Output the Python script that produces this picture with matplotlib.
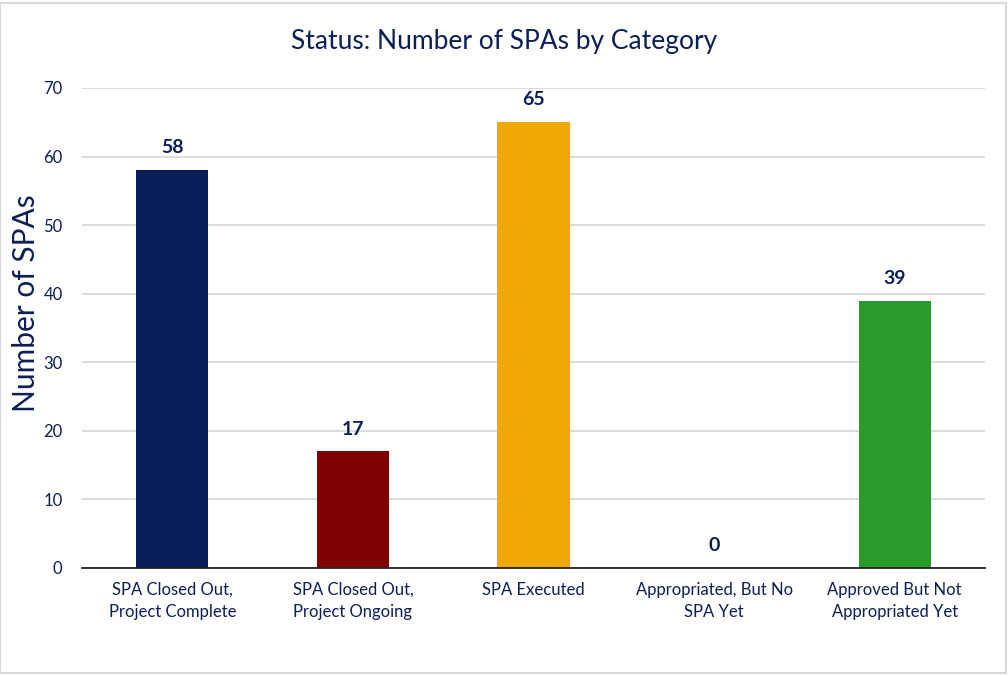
import matplotlib
matplotlib.use("Agg")
import matplotlib.pyplot as plt
from matplotlib.patches import Rectangle

categories = ["SPA Closed Out,\nProject Complete", "SPA Closed Out,\nProject Ongoing",
              "SPA Executed", "Appropriated, But No\nSPA Yet", "Approved But Not\nAppropriated Yet"]
values = [58, 17, 65, 0, 39]
colors = ["#081e59", "#7f0000", "#f0a804", "#1f4e9a", "#2a9a2a"]
yticks = [0, 10, 20, 30, 40, 50, 60, 70]

txt = "#0b1f55"
plt.rcParams['font.family'] = ['Lato', 'DejaVu Sans']

fig = plt.figure(figsize=(10.08, 6.76), dpi=100)
ax = fig.add_axes([82/1008, 1-568/676, 903/1008, 480/676])

x = list(range(len(categories)))
ax.bar(x, values, width=0.4, color=colors, zorder=3)
ax.set_xlim(-0.5, len(categories) - 0.5)
ax.set_ylim(0, 70)
ax.set_yticks(yticks)
ax.set_yticklabels([str(t) for t in yticks], color=txt, fontsize=12)
ax.set_xticks(x)
ax.set_xticklabels(categories, color=txt, fontsize=12, linespacing=1.45)
ax.tick_params(axis='both', length=0)
ax.tick_params(axis='y', pad=14)
ax.tick_params(axis='x', pad=10)
ax.grid(axis='y', color='#d9d9d9', linewidth=1.3, zorder=0)
for s in ['top', 'right', 'left']:
    ax.spines[s].set_visible(False)
ax.spines['bottom'].set_color('#222222')
ax.spines['bottom'].set_linewidth(1.3)
ax.spines['bottom'].set_zorder(4)

for xi, v in zip(x, values):
    ax.annotate(str(v), (xi, v), xytext=(0, 10), textcoords='offset points',
                ha='center', va='bottom', fontsize=14, fontweight='bold', color=txt)

fig.text(26/1008, 1-303/676, "Number of SPAs", rotation=90, ha='center', va='center',
         fontsize=21.5, color=txt)
fig.text(0.5, 1-42/676, "Status: Number of SPAs by Category", ha='center', va='center',
         fontsize=19, color=txt)

# chart border
fig.add_artist(Rectangle((0, 3/676), 1006/1008, 670/676, transform=fig.transFigure,
                         fill=False, edgecolor='#d9d9d9', linewidth=1.5))

fig.savefig("out.png", dpi=100, facecolor='white')
